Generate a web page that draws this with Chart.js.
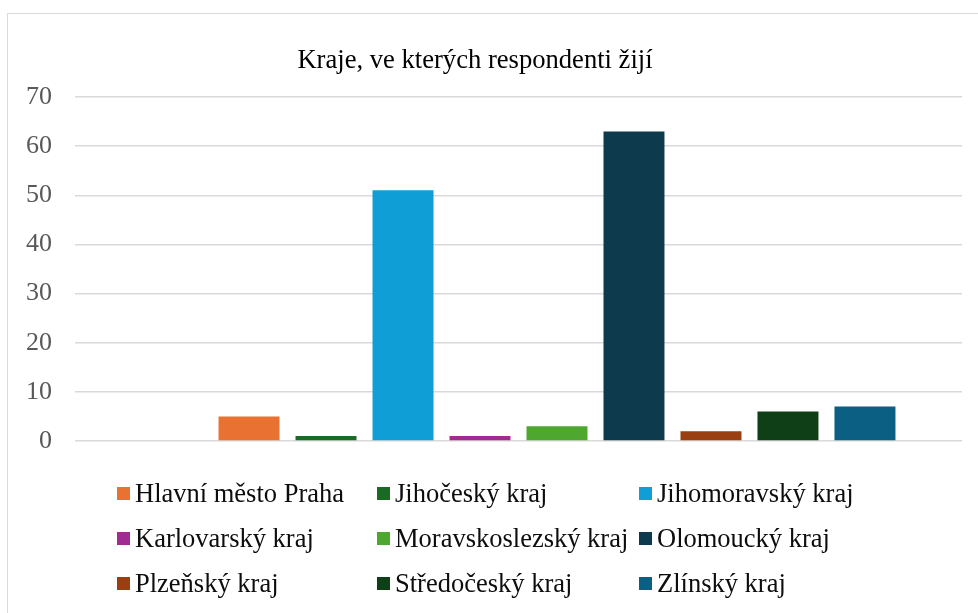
<!DOCTYPE html>
<html>
<head>
<meta charset="utf-8">
<script src="https://cdn.jsdelivr.net/npm/chart.js@4/dist/chart.umd.min.js"></script>
<style>
  html, body { margin: 0; padding: 0; background: #fff; }
  #wrap { position: relative; width: 978px; height: 613px; overflow: hidden; font-family: "Liberation Serif", "Times New Roman", serif; }
  #frame { position: absolute; left: 7px; top: 13px; width: 1000px; height: 700px; border: 1px solid #d9d9d9; box-sizing: border-box; }
  #title { position: absolute; left: 0; width: 950px; top: 44px; text-align: center; font-size: 26.6px; color: #000; white-space: nowrap; }
  canvas { position: absolute; left: 0; top: 0; }
  .lg { position: absolute; font-size: 26.5px; color: #0d0d0d; white-space: nowrap; line-height: 30px; }
  .lg i { position: absolute; left: -18px; top: 9px; width: 13px; height: 13px; }
</style>
</head>
<body>
<div id="wrap">
  <div id="frame"></div>
  <canvas id="c" width="978" height="613"></canvas>
  <div id="title">Kraje, ve kterých respondenti žijí</div>
  <div id="legend"></div>
</div>
<script>
const categories = [""];
const seriesNames = ["", "Hlavní město Praha", "Jihočeský kraj", "Jihomoravský kraj", "Karlovarský kraj", "Moravskoslezský kraj", "Olomoucký kraj", "Plzeňský kraj", "Středočeský kraj", "Zlínský kraj"];
const seriesValues = [0, 5, 1, 51, 1, 3, 63, 2, 6, 7];
const seriesColors = ["#156082", "#E97132", "#196B24", "#0F9ED5", "#A02B93", "#4EA72E", "#0E3A4E", "#9A3F12", "#0F3F16", "#0A5F82"];
const yTicks = [0, 10, 20, 30, 40, 50, 60, 70];

const datasets = seriesNames.map((n, i) => ({
  label: n,
  data: [seriesValues[i]],
  backgroundColor: seriesColors[i],
  borderWidth: 0,
  categoryPercentage: 0.868,
  barPercentage: 0.792
}));

new Chart(document.getElementById('c'), {
  type: 'bar',
  data: { labels: categories, datasets },
  options: {
    responsive: false,
    animation: false,
    layout: { padding: { top: 97, bottom: 172, right: 16, left: 0 } },
    plugins: { legend: { display: false }, title: { display: false }, tooltip: { enabled: false } },
    scales: {
      x: { display: false, grid: { display: false } },
      y: {
        min: 0, max: 70,
        afterFit: s => { s.width = 75; },
        afterBuildTicks: s => { s.ticks = yTicks.map(v => ({ value: v })); },
        border: { display: false },
        grid: { color: '#d9d9d9', lineWidth: 1.4, drawTicks: false },
        ticks: { padding: 23, color: '#595959', font: { family: 'Liberation Serif', size: 26 } }
      }
    }
  }
});

const colX = [135, 395, 657];
const rowY = [478, 523, 568];
const lg = document.getElementById('legend');
seriesNames.slice(1).forEach((n, k) => {
  const d = document.createElement('div');
  d.className = 'lg';
  d.style.left = colX[k % 3] + 'px';
  d.style.top = rowY[Math.floor(k / 3)] + 'px';
  const m = document.createElement('i');
  m.style.background = seriesColors[k + 1];
  d.appendChild(m);
  d.appendChild(document.createTextNode(n));
  lg.appendChild(d);
});
</script>
</body>
</html>
